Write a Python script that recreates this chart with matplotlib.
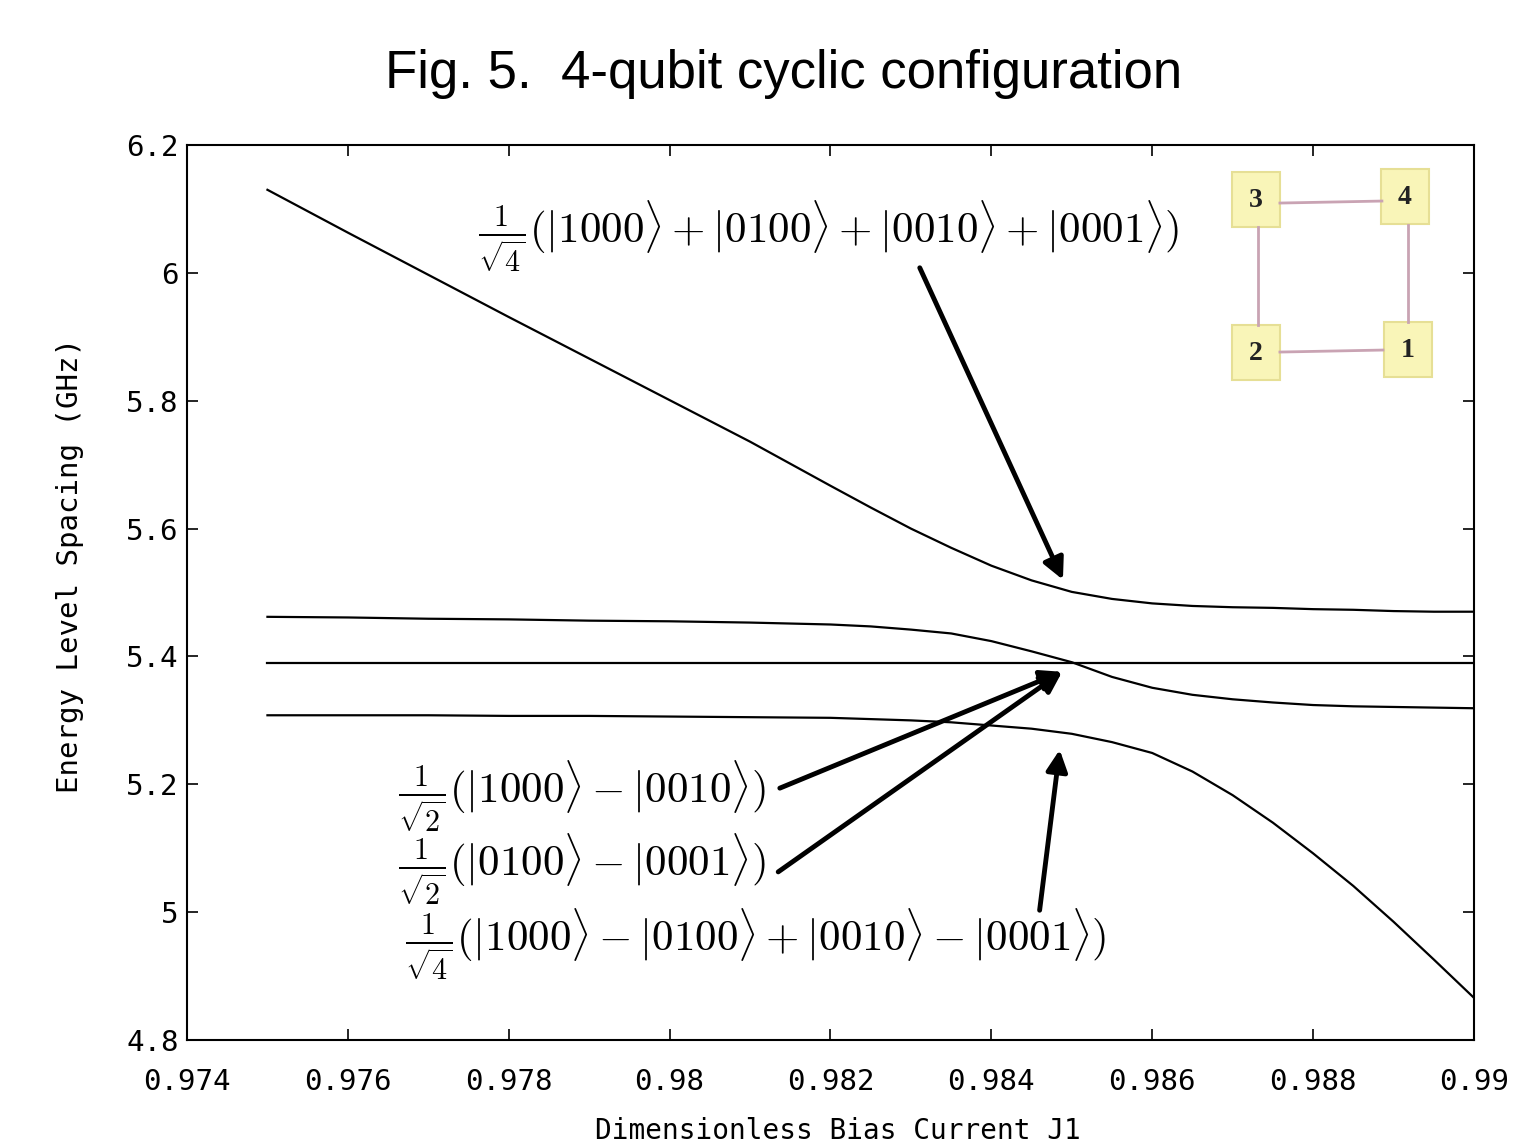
import numpy as np
import matplotlib
matplotlib.use("Agg")
import matplotlib.pyplot as plt
from matplotlib.patches import Rectangle

# ---- data ----
bias_j1 = [0.975, 0.976, 0.977, 0.978, 0.979, 0.980, 0.981, 0.982, 0.9825,
           0.983, 0.9835, 0.984, 0.9845, 0.985, 0.9855, 0.986, 0.9865,
           0.987, 0.9875, 0.988, 0.9885, 0.989, 0.9895, 0.990]

level_sym = [6.130, 6.063, 5.997, 5.931, 5.866, 5.801, 5.736, 5.667, 5.633,
             5.600, 5.570, 5.542, 5.519, 5.501, 5.490, 5.483, 5.479,
             5.477, 5.476, 5.474, 5.473, 5.471, 5.470, 5.470]
level_mid = [5.462, 5.461, 5.459, 5.458, 5.456, 5.455, 5.453, 5.450, 5.447,
             5.442, 5.436, 5.424, 5.408, 5.391, 5.368, 5.351, 5.340,
             5.333, 5.328, 5.324, 5.322, 5.321, 5.320, 5.319]
level_flat = [5.390] * len(bias_j1)
level_alt = [5.308, 5.308, 5.308, 5.307, 5.307, 5.306, 5.305, 5.304, 5.302,
             5.300, 5.297, 5.292, 5.287, 5.279, 5.266, 5.249, 5.220,
             5.183, 5.140, 5.092, 5.041, 4.985, 4.926, 4.866]

x_ticks = [0.974, 0.976, 0.978, 0.980, 0.982, 0.984, 0.986, 0.988, 0.990]
x_tick_labels = ["0.974", "0.976", "0.978", "0.98", "0.982", "0.984",
                 "0.986", "0.988", "0.99"]
y_ticks = [4.8, 5.0, 5.2, 5.4, 5.6, 5.8, 6.0, 6.2]
y_tick_labels = ["4.8", "5", "5.2", "5.4", "5.6", "5.8", "6", "6.2"]

state_labels = [
    r"$\frac{1}{\sqrt{4}}(|1000\rangle + |0100\rangle + |0010\rangle + |0001\rangle)$",
    r"$\frac{1}{\sqrt{2}}(|1000\rangle - |0010\rangle)$",
    r"$\frac{1}{\sqrt{2}}(|0100\rangle - |0001\rangle)$",
    r"$\frac{1}{\sqrt{4}}(|1000\rangle - |0100\rangle + |0010\rangle - |0001\rangle)$",
]

qubit_names = ["3", "4", "2", "1"]

# ---- figure ----
plt.rcParams["mathtext.fontset"] = "cm"
mono = "DejaVu Sans Mono"

fig = plt.figure(figsize=(15.13, 11.43), dpi=100)
ax = fig.add_axes([0.1236, 0.0901, 0.8506, 0.7830])

for lev in (level_sym, level_mid, level_flat, level_alt):
    ax.plot(bias_j1, lev, color="black", lw=1.6)

ax.set_xlim(0.974, 0.990)
ax.set_ylim(4.8, 6.2)
ax.set_xticks(x_ticks)
ax.set_xticklabels(x_tick_labels, family=mono, fontsize=21)
ax.set_yticks(y_ticks)
ax.set_yticklabels(y_tick_labels, family=mono, fontsize=21)
ax.tick_params(axis="both", direction="in", length=8, width=1.2,
               top=True, right=True)
ax.tick_params(axis="x", pad=20)
ax.tick_params(axis="y", pad=6)
for sp in ax.spines.values():
    sp.set_linewidth(1.5)

ax.set_ylabel("Energy Level Spacing (GHz)", family=mono, fontsize=21)
ax.yaxis.set_label_coords(-0.080, 0.53)
ax.set_xlabel("Dimensionless Bias Current J1", family=mono, fontsize=20)
ax.xaxis.set_label_coords(0.506, -0.086)

fig.text(0.518, 0.923, "Fig. 5.  4-qubit cyclic configuration",
         family="Liberation Sans", fontsize=38, ha="center", va="baseline")

# ---- state annotations ----
arrow_kw = dict(arrowstyle="-|>", color="black", lw=3.5, mutation_scale=32,
                shrinkA=0, shrinkB=0)
text_pos = [(0.97762, 6.056), (0.97662, 5.180), (0.97662, 5.066), (0.97671, 4.949)]
for lab, (tx, ty) in zip(state_labels, text_pos):
    ax.text(tx, ty, lab, fontsize=31, ha="left", va="center")

arrows = [((0.98311, 6.008), (0.98489, 5.520)),
          ((0.98137, 5.194), (0.98488, 5.376)),
          ((0.98135, 5.063), (0.98488, 5.376)),
          ((0.98460, 5.003), (0.98485, 5.254))]
for tail, head in arrows:
    ax.annotate("", xy=head, xytext=tail, arrowprops=arrow_kw)

# ---- coupling diagram inset ----
ins = fig.add_axes([0.8096, 0.6605, 0.1421, 0.1951])
ins.set_xlim(0, 215)
ins.set_ylim(223, 0)
ins.axis("off")
centers = [(31, 35), (180, 32), (31, 188), (183, 185)]
link = "#c9a3b3"
ins.plot([55, 157], [38, 36], color=link, lw=2)
ins.plot([33, 33], [62, 160], color=link, lw=2)
ins.plot([183, 183], [60, 157], color=link, lw=2)
ins.plot([55, 158], [187, 185], color=link, lw=2)
for name, (cx, cy) in zip(qubit_names, centers):
    ins.add_patch(Rectangle((cx - 24, cy - 28), 48, 55, facecolor="#f9f5b8",
                            edgecolor="#e6df95", lw=1.5))
    ins.text(cx, cy, name, family="Liberation Serif", fontsize=20,
             fontweight="bold", ha="center", va="center", color="#222222")

fig.savefig("out.png", dpi=100)
